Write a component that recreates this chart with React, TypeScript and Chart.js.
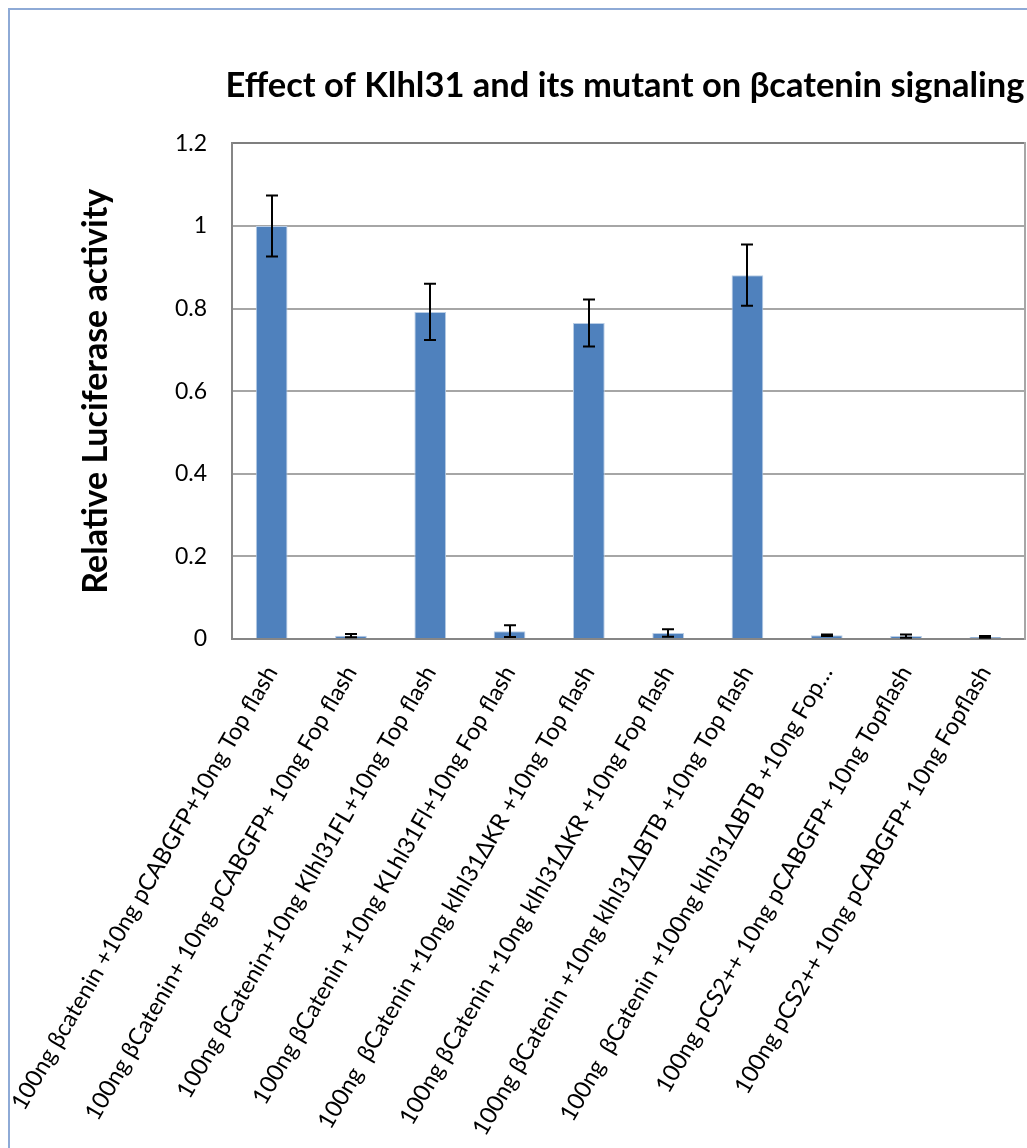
import React, { useEffect, useRef } from "react";
import { Chart, registerables } from "chart.js";

Chart.register(...registerables);

// Transfection conditions (x axis)
const categories = [
  "100ng βcatenin +10ng pCABGFP+10ng Top flash",
  "100ng βCatenin+ 10ng pCABGFP+ 10ng Fop flash",
  "100ng βCatenin+10ng Klhl31FL+10ng Top flash",
  "100ng βCatenin +10ng KLhl31Fl+10ng Fop flash",
  "100ng  βCatenin +10ng klhl31ΔKR +10ng Top flash",
  "100ng βCatenin +10ng klhl31ΔKR +10ng Fop flash",
  "100ng βCatenin +10ng klhl31ΔBTB +10ng Top flash",
  "100ng  βCatenin +100ng klhl31ΔBTB +10ng Fop…",
  "100ng pCS2++ 10ng pCABGFP+ 10ng Topflash",
  "100ng pCS2++ 10ng pCABGFP+ 10ng Fopflash",
];

// Mean relative luciferase activity and its error (±)
const means = [1.0, 0.008, 0.792, 0.019, 0.765, 0.0145, 0.881, 0.009, 0.007, 0.005];
const errors = [0.074, 0.004, 0.068, 0.014, 0.057, 0.009, 0.074, 0.002, 0.004, 0.002];

const yTickValues = [0, 0.2, 0.4, 0.6, 0.8, 1, 1.2];
const yTickLabels = ["0", "0.2", "0.4", "0.6", "0.8", "1", "1.2"];

const titleText = "Effect of Klhl31 and its mutant on βcatenin signaling";
const yTitleText = "Relative Luciferase activity";

const FONT = "Lato";
const CANVAS_W = 1234;
const CANVAS_H = 1140;
const PLOT_LEFT = 224;
const PLOT_RIGHT = 1017;
const PLOT_BOTTOM = 631;

const errorBarPlugin = {
  id: "errorBars",
  afterDatasetsDraw(chart: any) {
    const { ctx } = chart;
    const yScale = chart.scales.y;
    const meta = chart.getDatasetMeta(0);
    ctx.save();
    ctx.strokeStyle = "#000000";
    ctx.lineWidth = 2;
    meta.data.forEach((bar: any, i: number) => {
      const x = Math.round(bar.x);
      const top = yScale.getPixelForValue(means[i] + errors[i]);
      const bottom = yScale.getPixelForValue(Math.max(means[i] - errors[i], 0));
      const cap = 6;
      ctx.beginPath();
      ctx.moveTo(x, top);
      ctx.lineTo(x, bottom);
      ctx.moveTo(x - cap, top);
      ctx.lineTo(x + cap, top);
      ctx.moveTo(x - cap, bottom);
      ctx.lineTo(x + cap, bottom);
      ctx.stroke();
    });
    ctx.restore();
  },
};

export default function App() {
  const canvasRef = useRef<HTMLCanvasElement | null>(null);

  useEffect(() => {
    if (!canvasRef.current) return;
    const chart = new Chart(canvasRef.current, {
      type: "bar",
      data: {
        labels: categories,
        datasets: [
          {
            data: means,
            backgroundColor: "#4f81bd",
            borderColor: "#b9cde5",
            borderWidth: { left: 1, right: 1, top: 1, bottom: 0 },
            barPercentage: 0.4,
            categoryPercentage: 1,
          },
        ],
      },
      options: {
        responsive: false,
        animation: false,
        devicePixelRatio: 1,
        layout: { padding: 0 },
        plugins: {
          legend: { display: false },
          tooltip: { enabled: false },
          title: {
            display: true,
            text: titleText,
            color: "#000000",
            font: { family: FONT, size: 34.5, weight: "bold" },
            padding: { top: 57, bottom: 37 },
          },
        },
        scales: {
          x: {
            grid: { display: false, drawTicks: false },
            border: { display: true, color: "#868686", width: 2 },
            ticks: {
              autoSkip: false,
              minRotation: 60,
              maxRotation: 60,
              padding: 22,
              color: "#000000",
              font: { family: FONT, size: 23.5 },
            },
            afterFit: (s: any) => {
              s.height = CANVAS_H - PLOT_BOTTOM;
              s.paddingLeft = 0;
              s.paddingRight = 0;
            },
          },
          y: {
            min: 0,
            max: 1.2,
            afterBuildTicks: (s: any) => {
              s.ticks = yTickValues.map((v) => ({ value: v }));
            },
            ticks: {
              padding: 25,
              color: "#000000",
              font: { family: FONT, size: 23 },
              callback: (_v: any, i: number) => yTickLabels[i],
            },
            grid: {
              drawTicks: false,
              lineWidth: 2,
              color: (ctx: any) =>
                ctx.tick && ctx.tick.value === 1.2 ? "#7f7f7f" : "#a6a6a6",
            },
            border: { display: true, color: "#868686", width: 2 },
            title: {
              display: true,
              text: yTitleText,
              color: "#000000",
              font: { family: FONT, size: 34, weight: "bold" },
              padding: { top: 68, bottom: 0 },
            },
            afterFit: (s: any) => {
              s.width = PLOT_LEFT;
            },
          },
          y2: {
            position: "right",
            min: 0,
            max: 1.2,
            grid: { display: false, drawTicks: false },
            ticks: { display: false },
            border: { display: true, color: "#a6a6a6", width: 2 },
            afterFit: (s: any) => {
              s.width = CANVAS_W - PLOT_RIGHT;
            },
          },
        },
      },
      plugins: [errorBarPlugin],
    });
    return () => chart.destroy();
  }, []);

  return (
    <div
      style={{
        position: "fixed",
        left: 8,
        top: 8,
        width: 1019,
        height: 1140,
        overflow: "hidden",
        background: "#ffffff",
      }}
    >
      <canvas
        ref={canvasRef}
        width={CANVAS_W}
        height={CANVAS_H}
        style={{ position: "absolute", left: 0, top: 0, width: CANVAS_W, height: CANVAS_H }}
      />
      <div
        style={{
          position: "absolute",
          left: 0,
          top: 0,
          width: 1100,
          height: 1200,
          border: "2px solid #8eaad6",
          boxSizing: "border-box",
          pointerEvents: "none",
        }}
      />
    </div>
  );
}
